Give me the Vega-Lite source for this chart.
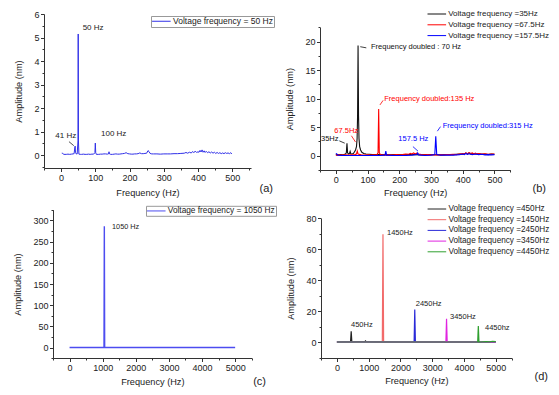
{
  "$schema": "https://vega.github.io/schema/vega-lite/v6.json",
  "padding": {"left": 13, "top": 10, "right": 5, "bottom": 5},
  "bounds": "flush",
  "align": "all",
  "columns": 2,
  "spacing": {"row": 39, "column": 68},
  "resolve": {"scale": {"color": "independent"}},
  "config": {
    "view": {"stroke": null},
    "font": "Liberation Sans",
    "axis": {"domainColor": "#333", "domainWidth": 1, "tickColor": "#333", "tickWidth": 1, "labelColor": "#222", "titleColor": "#222", "labelFontSize": 9, "titleFontSize": 9.2, "titleFontWeight": "normal", "grid": false, "labelPadding": 1.5, "tickSize": 3.5, "labelFlush": false, "labelOverlap": false},
    "axisX": {"titlePadding": 5},
    "axisY": {"titlePadding": 10},
    "legend": {"title": null, "labelFontSize": 8, "labelColor": "#222", "symbolType": "M-1.4,0H4.8", "symbolSize": 36, "symbolStrokeWidth": 1, "labelOffset": 12.5, "padding": 0, "rowPadding": 2.5, "labelLimit": 300},
    "title": {"fontSize": 11, "fontWeight": "normal", "color": "#222"}
  },
  "datasets": {
    "a": [
      {"f":2,"a":0.08,"s":"50"},{"f":5,"a":0.07,"s":"50"},{"f":8,"a":0.03,"s":"50"},{"f":15,"a":0.03,"s":"50"},{"f":20,"a":0.04,"s":"50"},{"f":25,"a":0.03,"s":"50"},{"f":30,"a":0.04,"s":"50"},{"f":35,"a":0.05,"s":"50"},{"f":38,"a":0.06,"s":"50"},{"f":40,"a":0.3,"s":"50"},{"f":41,"a":0.38,"s":"50"},{"f":42,"a":0.12,"s":"50"},{"f":44,"a":0.05,"s":"50"},{"f":47,"a":0.05,"s":"50"},{"f":49.3,"a":0.6,"s":"50"},{"f":50,"a":5.15,"s":"50"},{"f":50.7,"a":0.6,"s":"50"},{"f":52,"a":0.04,"s":"50"},{"f":56,"a":0.03,"s":"50"},{"f":60,"a":0.03,"s":"50"},{"f":65,"a":0.04,"s":"50"},{"f":70,"a":0.03,"s":"50"},{"f":75,"a":0.03,"s":"50"},{"f":80,"a":0.04,"s":"50"},{"f":85,"a":0.03,"s":"50"},{"f":90,"a":0.04,"s":"50"},{"f":95,"a":0.04,"s":"50"},{"f":98.8,"a":0.1,"s":"50"},{"f":100,"a":0.51,"s":"50"},{"f":101.2,"a":0.1,"s":"50"},{"f":103,"a":0.03,"s":"50"},{"f":110,"a":0.03,"s":"50"},{"f":115,"a":0.04,"s":"50"},{"f":120,"a":0.04,"s":"50"},{"f":125,"a":0.05,"s":"50"},{"f":130,"a":0.05,"s":"50"},{"f":135,"a":0.04,"s":"50"},{"f":138.5,"a":0.05,"s":"50"},{"f":140,"a":0.14,"s":"50"},{"f":141.5,"a":0.05,"s":"50"},{"f":145,"a":0.03,"s":"50"},{"f":150,"a":0.03,"s":"50"},{"f":155,"a":0.04,"s":"50"},{"f":160,"a":0.05,"s":"50"},{"f":165,"a":0.04,"s":"50"},{"f":170,"a":0.04,"s":"50"},{"f":175,"a":0.05,"s":"50"},{"f":180,"a":0.06,"s":"50"},{"f":185,"a":0.07,"s":"50"},{"f":190,"a":0.1,"s":"50"},{"f":195,"a":0.06,"s":"50"},{"f":200,"a":0.05,"s":"50"},{"f":205,"a":0.04,"s":"50"},{"f":210,"a":0.04,"s":"50"},{"f":215,"a":0.05,"s":"50"},{"f":220,"a":0.05,"s":"50"},{"f":225,"a":0.06,"s":"50"},{"f":230,"a":0.09,"s":"50"},{"f":235,"a":0.06,"s":"50"},{"f":240,"a":0.06,"s":"50"},{"f":245,"a":0.07,"s":"50"},{"f":250,"a":0.08,"s":"50"},{"f":254,"a":0.19,"s":"50"},{"f":257,"a":0.15,"s":"50"},{"f":260,"a":0.07,"s":"50"},{"f":265,"a":0.05,"s":"50"},{"f":270,"a":0.05,"s":"50"},{"f":280,"a":0.05,"s":"50"},{"f":290,"a":0.04,"s":"50"},{"f":300,"a":0.05,"s":"50"},{"f":310,"a":0.05,"s":"50"},{"f":320,"a":0.05,"s":"50"},{"f":330,"a":0.06,"s":"50"},{"f":340,"a":0.06,"s":"50"},{"f":350,"a":0.07,"s":"50"},{"f":360,"a":0.08,"s":"50"},{"f":365,"a":0.11,"s":"50"},{"f":370,"a":0.08,"s":"50"},{"f":375,"a":0.12,"s":"50"},{"f":380,"a":0.09,"s":"50"},{"f":385,"a":0.15,"s":"50"},{"f":388,"a":0.1,"s":"50"},{"f":392,"a":0.17,"s":"50"},{"f":396,"a":0.11,"s":"50"},{"f":400,"a":0.14,"s":"50"},{"f":403,"a":0.12,"s":"50"},{"f":406,"a":0.2,"s":"50"},{"f":409,"a":0.13,"s":"50"},{"f":412,"a":0.22,"s":"50"},{"f":415,"a":0.12,"s":"50"},{"f":418,"a":0.18,"s":"50"},{"f":421,"a":0.11,"s":"50"},{"f":424,"a":0.16,"s":"50"},{"f":428,"a":0.1,"s":"50"},{"f":432,"a":0.14,"s":"50"},{"f":436,"a":0.09,"s":"50"},{"f":440,"a":0.13,"s":"50"},{"f":444,"a":0.08,"s":"50"},{"f":448,"a":0.12,"s":"50"},{"f":452,"a":0.07,"s":"50"},{"f":456,"a":0.11,"s":"50"},{"f":460,"a":0.07,"s":"50"},{"f":464,"a":0.1,"s":"50"},{"f":468,"a":0.06,"s":"50"},{"f":472,"a":0.09,"s":"50"},{"f":476,"a":0.06,"s":"50"},{"f":480,"a":0.1,"s":"50"},{"f":484,"a":0.07,"s":"50"},{"f":488,"a":0.09,"s":"50"},{"f":492,"a":0.06,"s":"50"},{"f":496,"a":0.1,"s":"50"},{"f":499,"a":0.05,"s":"50"}
    ],
    "a_txt": [{"f":63,"a":5.39,"t":"50 Hz"},{"f":-17,"a":0.8,"t":"41 Hz"},{"f":116.6,"a":0.9,"t":"100 Hz"}],
    "a_arr": [{"f":23,"a":0.57,"f2":37,"a2":0.4}],
    "b": [
      {"f":0,"a":0.15,"s":"35"},{"f":5,"a":0.2,"s":"35"},{"f":10,"a":0.15,"s":"35"},{"f":15,"a":0.2,"s":"35"},{"f":20,"a":0.15,"s":"35"},{"f":25,"a":0.2,"s":"35"},{"f":30,"a":0.3,"s":"35"},{"f":33,"a":0.5,"s":"35"},{"f":35,"a":2.2,"s":"35"},{"f":37,"a":0.5,"s":"35"},{"f":40,"a":0.3,"s":"35"},{"f":43,"a":0.4,"s":"35"},{"f":45,"a":0.75,"s":"35"},{"f":47,"a":0.35,"s":"35"},{"f":50,"a":0.3,"s":"35"},{"f":55,"a":0.4,"s":"35"},{"f":58,"a":0.6,"s":"35"},{"f":62,"a":1.0,"s":"35"},{"f":65,"a":1.6,"s":"35"},{"f":67,"a":3,"s":"35"},{"f":68.5,"a":7,"s":"35"},{"f":70,"a":19.3,"s":"35"},{"f":71.5,"a":7,"s":"35"},{"f":73,"a":3,"s":"35"},{"f":75,"a":1.6,"s":"35"},{"f":78,"a":1.0,"s":"35"},{"f":82,"a":0.6,"s":"35"},{"f":88,"a":0.4,"s":"35"},{"f":95,"a":0.3,"s":"35"},{"f":105,"a":0.25,"s":"35"},{"f":115,"a":0.2,"s":"35"},{"f":130,"a":0.2,"s":"35"},{"f":150,"a":0.2,"s":"35"},{"f":170,"a":0.15,"s":"35"},{"f":190,"a":0.2,"s":"35"},{"f":210,"a":0.15,"s":"35"},{"f":230,"a":0.2,"s":"35"},{"f":250,"a":0.2,"s":"35"},{"f":270,"a":0.15,"s":"35"},{"f":290,"a":0.2,"s":"35"},{"f":310,"a":0.2,"s":"35"},{"f":330,"a":0.15,"s":"35"},{"f":350,"a":0.2,"s":"35"},{"f":370,"a":0.2,"s":"35"},{"f":390,"a":0.3,"s":"35"},{"f":400,"a":0.25,"s":"35"},{"f":410,"a":0.45,"s":"35"},{"f":415,"a":0.3,"s":"35"},{"f":420,"a":0.5,"s":"35"},{"f":425,"a":0.3,"s":"35"},{"f":430,"a":0.4,"s":"35"},{"f":440,"a":0.3,"s":"35"},{"f":450,"a":0.35,"s":"35"},{"f":460,"a":0.25,"s":"35"},{"f":470,"a":0.3,"s":"35"},{"f":480,"a":0.2,"s":"35"},{"f":490,"a":0.3,"s":"35"},{"f":500,"a":0.25,"s":"35"},
      {"f":0,"a":0.1,"s":"67.5"},{"f":10,"a":0.15,"s":"67.5"},{"f":20,"a":0.1,"s":"67.5"},{"f":30,"a":0.15,"s":"67.5"},{"f":40,"a":0.1,"s":"67.5"},{"f":50,"a":0.15,"s":"67.5"},{"f":60,"a":0.2,"s":"67.5"},{"f":65,"a":0.3,"s":"67.5"},{"f":67.5,"a":0.8,"s":"67.5"},{"f":70,"a":0.3,"s":"67.5"},{"f":80,"a":0.15,"s":"67.5"},{"f":90,"a":0.1,"s":"67.5"},{"f":100,"a":0.15,"s":"67.5"},{"f":110,"a":0.1,"s":"67.5"},{"f":120,"a":0.15,"s":"67.5"},{"f":130,"a":0.2,"s":"67.5"},{"f":133,"a":0.5,"s":"67.5"},{"f":135,"a":8.2,"s":"67.5"},{"f":137,"a":0.5,"s":"67.5"},{"f":140,"a":0.2,"s":"67.5"},{"f":150,"a":0.15,"s":"67.5"},{"f":160,"a":0.1,"s":"67.5"},{"f":170,"a":0.15,"s":"67.5"},{"f":180,"a":0.1,"s":"67.5"},{"f":190,"a":0.2,"s":"67.5"},{"f":200,"a":0.15,"s":"67.5"},{"f":210,"a":0.2,"s":"67.5"},{"f":220,"a":0.3,"s":"67.5"},{"f":230,"a":0.25,"s":"67.5"},{"f":235,"a":0.4,"s":"67.5"},{"f":240,"a":0.3,"s":"67.5"},{"f":245,"a":0.5,"s":"67.5"},{"f":250,"a":0.3,"s":"67.5"},{"f":255,"a":0.45,"s":"67.5"},{"f":260,"a":0.3,"s":"67.5"},{"f":270,"a":0.2,"s":"67.5"},{"f":280,"a":0.15,"s":"67.5"},{"f":290,"a":0.2,"s":"67.5"},{"f":300,"a":0.15,"s":"67.5"},{"f":310,"a":0.2,"s":"67.5"},{"f":320,"a":0.15,"s":"67.5"},{"f":330,"a":0.2,"s":"67.5"},{"f":340,"a":0.15,"s":"67.5"},{"f":350,"a":0.2,"s":"67.5"},{"f":360,"a":0.2,"s":"67.5"},{"f":370,"a":0.25,"s":"67.5"},{"f":380,"a":0.2,"s":"67.5"},{"f":390,"a":0.3,"s":"67.5"},{"f":400,"a":0.4,"s":"67.5"},{"f":405,"a":0.3,"s":"67.5"},{"f":410,"a":0.5,"s":"67.5"},{"f":415,"a":0.35,"s":"67.5"},{"f":420,"a":0.55,"s":"67.5"},{"f":425,"a":0.4,"s":"67.5"},{"f":430,"a":0.5,"s":"67.5"},{"f":435,"a":0.3,"s":"67.5"},{"f":440,"a":0.45,"s":"67.5"},{"f":445,"a":0.3,"s":"67.5"},{"f":450,"a":0.4,"s":"67.5"},{"f":460,"a":0.3,"s":"67.5"},{"f":470,"a":0.35,"s":"67.5"},{"f":480,"a":0.25,"s":"67.5"},{"f":490,"a":0.3,"s":"67.5"},{"f":500,"a":0.3,"s":"67.5"},
      {"f":0,"a":0.4,"s":"157.5"},{"f":3,"a":0.3,"s":"157.5"},{"f":6,"a":0.1,"s":"157.5"},{"f":20,"a":0.05,"s":"157.5"},{"f":40,"a":0.05,"s":"157.5"},{"f":60,"a":0.05,"s":"157.5"},{"f":80,"a":0.05,"s":"157.5"},{"f":100,"a":0.05,"s":"157.5"},{"f":120,"a":0.05,"s":"157.5"},{"f":140,"a":0.05,"s":"157.5"},{"f":155,"a":0.1,"s":"157.5"},{"f":157.5,"a":0.8,"s":"157.5"},{"f":160,"a":0.1,"s":"157.5"},{"f":180,"a":0.05,"s":"157.5"},{"f":200,"a":0.05,"s":"157.5"},{"f":220,"a":0.05,"s":"157.5"},{"f":240,"a":0.1,"s":"157.5"},{"f":255,"a":0.2,"s":"157.5"},{"f":258,"a":0.5,"s":"157.5"},{"f":261,"a":0.15,"s":"157.5"},{"f":280,"a":0.05,"s":"157.5"},{"f":300,"a":0.1,"s":"157.5"},{"f":312,"a":0.2,"s":"157.5"},{"f":315,"a":3.4,"s":"157.5"},{"f":318,"a":0.2,"s":"157.5"},{"f":330,"a":0.1,"s":"157.5"},{"f":350,"a":0.1,"s":"157.5"},{"f":370,"a":0.1,"s":"157.5"},{"f":380,"a":0.15,"s":"157.5"},{"f":390,"a":0.2,"s":"157.5"},{"f":400,"a":0.3,"s":"157.5"},{"f":405,"a":0.2,"s":"157.5"},{"f":410,"a":0.4,"s":"157.5"},{"f":415,"a":0.25,"s":"157.5"},{"f":420,"a":0.35,"s":"157.5"},{"f":430,"a":0.2,"s":"157.5"},{"f":440,"a":0.3,"s":"157.5"},{"f":450,"a":0.2,"s":"157.5"},{"f":460,"a":0.25,"s":"157.5"},{"f":470,"a":0.15,"s":"157.5"},{"f":480,"a":0.2,"s":"157.5"},{"f":490,"a":0.15,"s":"157.5"},{"f":500,"a":0.2,"s":"157.5"}
    ],
    "b_txt": [
      {"f":110.8,"a":19.1,"t":"Frequency doubled : 70 Hz","s":"35"},{"f":-46.8,"a":2.93,"t":"35Hz","s":"35"},
      {"f":152.7,"a":9.94,"t":"Frequency doubled:135 Hz","s":"67.5"},{"f":-4.9,"a":4.28,"t":"67.5Hz","s":"67.5"},
      {"f":336.9,"a":5.21,"t":"Frequency doubled:315 Hz","s":"157.5"},{"f":196.9,"a":2.93,"t":"157.5 Hz","s":"157.5"}
    ],
    "b_arr": [
      {"f":96,"a":18.9,"f2":77,"a2":19.1,"s":"35"},{"f":11,"a":2.6,"f2":28,"a2":2.2,"s":"35"},
      {"f":149,"a":9.7,"f2":139,"a2":8.9,"s":"67.5"},{"f":49,"a":3.5,"f2":62,"a2":2.4,"s":"67.5"},
      {"f":330,"a":5.1,"f2":320,"a2":4.3,"s":"157.5"},{"f":243,"a":1.6,"f2":259,"a2":0.8,"s":"157.5"}
    ],
    "c": [
      {"f":0,"a":0.3,"s":"1050"},{"f":1040,"a":0.3,"s":"1050"},{"f":1050,"a":286,"s":"1050"},{"f":1060,"a":0.3,"s":"1050"},{"f":5000,"a":0.3,"s":"1050"}
    ],
    "c_txt": [{"f":1282,"a":284,"t":"1050 Hz"}],
    "d": [
      {"f":0,"a":0.3,"s":"450"},{"f":200,"a":0.4,"s":"450"},{"f":430,"a":0.4,"s":"450"},{"f":450,"a":7.2,"s":"450"},{"f":470,"a":0.4,"s":"450"},{"f":700,"a":0.5,"s":"450"},{"f":880,"a":0.5,"s":"450"},{"f":900,"a":1.0,"s":"450"},{"f":920,"a":0.5,"s":"450"},{"f":1200,"a":0.4,"s":"450"},{"f":2000,"a":0.3,"s":"450"},{"f":3000,"a":0.3,"s":"450"},{"f":4000,"a":0.3,"s":"450"},{"f":5000,"a":0.3,"s":"450"},
      {"f":0,"a":0.3,"s":"1450"},{"f":1430,"a":0.3,"s":"1450"},{"f":1450,"a":69.8,"s":"1450"},{"f":1470,"a":0.3,"s":"1450"},{"f":5000,"a":0.3,"s":"1450"},
      {"f":0,"a":0.3,"s":"2450"},{"f":2430,"a":0.3,"s":"2450"},{"f":2450,"a":21.2,"s":"2450"},{"f":2470,"a":0.3,"s":"2450"},{"f":5000,"a":0.3,"s":"2450"},
      {"f":0,"a":0.3,"s":"3450"},{"f":3430,"a":0.3,"s":"3450"},{"f":3450,"a":15.2,"s":"3450"},{"f":3470,"a":0.3,"s":"3450"},{"f":5000,"a":0.3,"s":"3450"},
      {"f":0,"a":0.3,"s":"4450"},{"f":2000,"a":0.3,"s":"4450"},{"f":4430,"a":0.3,"s":"4450"},{"f":4450,"a":10.6,"s":"4450"},{"f":4470,"a":0.3,"s":"4450"},{"f":4700,"a":0.6,"s":"4450"},{"f":4800,"a":0.4,"s":"4450"},{"f":4900,"a":0.7,"s":"4450"},{"f":5000,"a":0.5,"s":"4450"}
    ],
    "d_txt": [{"f":1577,"a":70.5,"t":"1450Hz"},{"f":444,"a":11.3,"t":"450Hz"},{"f":2480,"a":24.8,"t":"2450Hz"},{"f":3559,"a":16.2,"t":"3450Hz"},{"f":4660,"a":9.3,"t":"4450hz"}]
  },
  "concat": [
    {
      "width": 208, "height": 154,
      "title": {"text": "(a)", "orient": "bottom", "anchor": "end", "frame": "group", "dx": 21, "offset": -14},
      "resolve": {"axis": {"x": "independent", "y": "independent"}},
      "layer": [
        {"data": {"name": "a"}, "mark": {"type": "line", "strokeWidth": 1},
         "encoding": {
           "x": {"field": "f", "type": "quantitative", "scale": {"domain": [-50, 555], "range": [0, 207], "nice": false, "zero": false}, "axis": {"values": [0,100,200,300,400,500], "format": "d", "title": "Frequency (Hz)", "titlePadding": 6}},
           "y": {"field": "a", "type": "quantitative", "scale": {"domain": [-0.55, 6], "nice": false, "zero": false}, "axis": {"values": [0,1,2,3,4,5,6], "format": "d", "title": "Amplitude (nm)"}},
           "color": {"field": "s", "type": "nominal", "scale": {"domain": ["50"], "range": ["#3030e8"]}, "legend": {"orient": "none", "legendX": 107, "legendY": 2, "padding": 1, "strokeColor": "#999", "labelFontSize": 8.5, "labelExpr": "'Voltage frequency = ' + datum.label + ' Hz'"}}
         }},
        {"data": {"name": "a_txt"}, "mark": {"type": "text", "align": "left", "baseline": "middle", "fontSize": 8, "color": "#222"},
         "encoding": {
           "x": {"field": "f", "type": "quantitative", "axis": {"orient": "bottom", "values": [-50,50,150,250,350,450,550], "tickSize": 2, "labels": false, "domain": false, "title": null}},
           "y": {"field": "a", "type": "quantitative", "axis": {"orient": "left", "values": [-0.5,0.5,1.5,2.5,3.5,4.5,5.5], "tickSize": 2, "labels": false, "domain": false, "title": null}},
           "text": {"field": "t"}
         }},
        {"data": {"name": "a_arr"}, "mark": {"type": "rule", "color": "#222", "strokeWidth": 0.8},
         "encoding": {"x": {"field": "f", "type": "quantitative", "axis": null}, "y": {"field": "a", "type": "quantitative", "axis": null}, "x2": {"field": "f2"}, "y2": {"field": "a2"}}}
      ]
    },
    {
      "width": 208, "height": 156,
      "title": {"text": "(b)", "orient": "bottom", "anchor": "end", "frame": "group", "dx": 18, "offset": -14},
      "resolve": {"axis": {"x": "independent", "y": "independent"}},
      "layer": [
        {"data": {"name": "b"}, "mark": {"type": "line", "strokeWidth": 1.1},
         "encoding": {
           "x": {"field": "f", "type": "quantitative", "scale": {"domain": [-50, 550], "range": [0, 190.3], "nice": false, "zero": false}, "axis": {"values": [0,100,200,300,400,500], "format": "d", "title": "Frequency (Hz)", "titlePadding": 4}},
           "y": {"field": "a", "type": "quantitative", "scale": {"domain": [-2.5, 22.5], "range": [156, 13.3], "nice": false, "zero": false}, "axis": {"values": [0,5,10,15,20], "format": "d", "title": "Amplitude (nm)"}},
           "color": {"field": "s", "type": "nominal", "scale": {"domain": ["35", "67.5", "157.5"], "range": ["#111111", "#ff0000", "#0000ff"]}, "legend": {"orient": "none", "legendX": 107.7, "legendY": -4, "labelFontSize": 8, "rowPadding": 2.8, "labelExpr": "'Voltage frequency =' + datum.label + 'Hz'"}}
         }},
        {"data": {"name": "b_txt"}, "transform": [{"filter": "datum.s == '35'"}], "mark": {"type": "text", "align": "left", "baseline": "middle", "fontSize": 7.5, "color": "#111"},
         "encoding": {
           "x": {"field": "f", "type": "quantitative", "axis": {"orient": "bottom", "values": [-50,50,150,250,350,450,550], "tickSize": 2, "labels": false, "domain": false, "title": null}},
           "y": {"field": "a", "type": "quantitative", "axis": {"orient": "left", "values": [-2.5,2.5,7.5,12.5,17.5,22.5], "tickSize": 2, "labels": false, "domain": false, "title": null}},
           "text": {"field": "t"}
         }},
        {"data": {"name": "b_txt"}, "transform": [{"filter": "datum.s == '67.5'"}], "mark": {"type": "text", "align": "left", "baseline": "middle", "fontSize": 7.5, "color": "#ff0000"},
         "encoding": {"x": {"field": "f", "type": "quantitative", "axis": null}, "y": {"field": "a", "type": "quantitative", "axis": null}, "text": {"field": "t"}}},
        {"data": {"name": "b_txt"}, "transform": [{"filter": "datum.s == '157.5'"}], "mark": {"type": "text", "align": "left", "baseline": "middle", "fontSize": 7.5, "color": "#0000ff"},
         "encoding": {"x": {"field": "f", "type": "quantitative", "axis": null}, "y": {"field": "a", "type": "quantitative", "axis": null}, "text": {"field": "t"}}},
        {"data": {"name": "b_arr"}, "transform": [{"filter": "datum.s == '35'"}], "mark": {"type": "rule", "color": "#111", "strokeWidth": 0.8},
         "encoding": {"x": {"field": "f", "type": "quantitative", "axis": null}, "y": {"field": "a", "type": "quantitative", "axis": null}, "x2": {"field": "f2"}, "y2": {"field": "a2"}}},
        {"data": {"name": "b_arr"}, "transform": [{"filter": "datum.s == '67.5'"}], "mark": {"type": "rule", "color": "#ff0000", "strokeWidth": 0.8},
         "encoding": {"x": {"field": "f", "type": "quantitative", "axis": null}, "y": {"field": "a", "type": "quantitative", "axis": null}, "x2": {"field": "f2"}, "y2": {"field": "a2"}}},
        {"data": {"name": "b_arr"}, "transform": [{"filter": "datum.s == '157.5'"}], "mark": {"type": "rule", "color": "#0000ff", "strokeWidth": 0.8},
         "encoding": {"x": {"field": "f", "type": "quantitative", "axis": null}, "y": {"field": "a", "type": "quantitative", "axis": null}, "x2": {"field": "f2"}, "y2": {"field": "a2"}}}
      ]
    },
    {
      "width": 208, "height": 149,
      "title": {"text": "(c)", "orient": "bottom", "anchor": "end", "frame": "group", "dx": 14, "offset": -10},
      "resolve": {"axis": {"x": "independent", "y": "independent"}},
      "layer": [
        {"data": {"name": "c"}, "mark": {"type": "line", "strokeWidth": 1.4},
         "encoding": {
           "x": {"field": "f", "type": "quantitative", "scale": {"domain": [-500, 5500], "range": [9, 207.7], "nice": false, "zero": false}, "axis": {"values": [0,1000,2000,3000,4000,5000], "format": "d", "title": "Frequency (Hz)", "titlePadding": 5}},
           "y": {"field": "a", "type": "quantitative", "scale": {"domain": [-25, 325], "range": [149.3, 0.7], "nice": false, "zero": false}, "axis": {"values": [0,50,100,150,200,250,300], "format": "d", "offset": -9, "title": "Amplitude (nm)"}},
           "color": {"field": "s", "type": "nominal", "scale": {"domain": ["1050"], "range": ["#4d4df0"]}, "legend": {"orient": "none", "legendX": 102, "legendY": -3.2, "padding": 1, "strokeColor": "#999", "labelFontSize": 8.3, "labelExpr": "'Voltage frequency = ' + datum.label + ' Hz'"}}
         }},
        {"data": {"name": "c_txt"}, "mark": {"type": "text", "align": "left", "baseline": "middle", "fontSize": 7.3, "color": "#222"},
         "encoding": {
           "x": {"field": "f", "type": "quantitative", "axis": {"orient": "bottom", "values": [-500,500,1500,2500,3500,4500,5500], "tickSize": 2, "labels": false, "domain": false, "title": null}},
           "y": {"field": "a", "type": "quantitative", "axis": {"orient": "left", "values": [-25,25,75,125,175,225,275,325], "tickSize": 2, "labels": false, "domain": false, "title": null, "offset": -9}},
           "text": {"field": "t"}
         }}
      ]
    },
    {
      "width": 208, "height": 149,
      "title": {"text": "(d)", "orient": "bottom", "anchor": "end", "frame": "group", "dx": 20, "offset": -14},
      "resolve": {"axis": {"x": "independent", "y": "independent"}},
      "layer": [
        {"data": {"name": "d"}, "mark": {"type": "line", "strokeWidth": 1.2},
         "encoding": {
           "x": {"field": "f", "type": "quantitative", "scale": {"domain": [-500, 5500], "range": [1, 191.7], "nice": false, "zero": false}, "axis": {"values": [0,1000,2000,3000,4000,5000], "format": "d", "title": "Frequency (Hz)", "titlePadding": 4}},
           "y": {"field": "a", "type": "quantitative", "scale": {"domain": [-10, 80], "range": [149, 9.3], "nice": false, "zero": false}, "axis": {"values": [0,20,40,60,80], "format": "d", "offset": -1, "title": "Amplitude (nm)"}},
           "color": {"field": "s", "type": "nominal", "scale": {"domain": ["450", "1450", "2450", "3450", "4450"], "range": ["#222222", "#f26a6a", "#2a2ad8", "#e024e0", "#30a030"]}, "legend": {"orient": "none", "legendX": 107.7, "legendY": -4.1, "labelFontSize": 8.2, "rowPadding": 1.7, "labelExpr": "'Voltage frequency =' + datum.label + 'Hz'"}}
         }},
        {"data": {"name": "d_txt"}, "mark": {"type": "text", "align": "left", "baseline": "middle", "fontSize": 7.5, "color": "#222"},
         "encoding": {
           "x": {"field": "f", "type": "quantitative", "axis": {"orient": "bottom", "values": [-500,500,1500,2500,3500,4500,5500], "tickSize": 2, "labels": false, "domain": false, "title": null}},
           "y": {"field": "a", "type": "quantitative", "axis": {"orient": "left", "values": [-10,10,30,50,70], "tickSize": 2, "labels": false, "domain": false, "title": null, "offset": -1}},
           "text": {"field": "t"}
         }}
      ]
    }
  ]
}
